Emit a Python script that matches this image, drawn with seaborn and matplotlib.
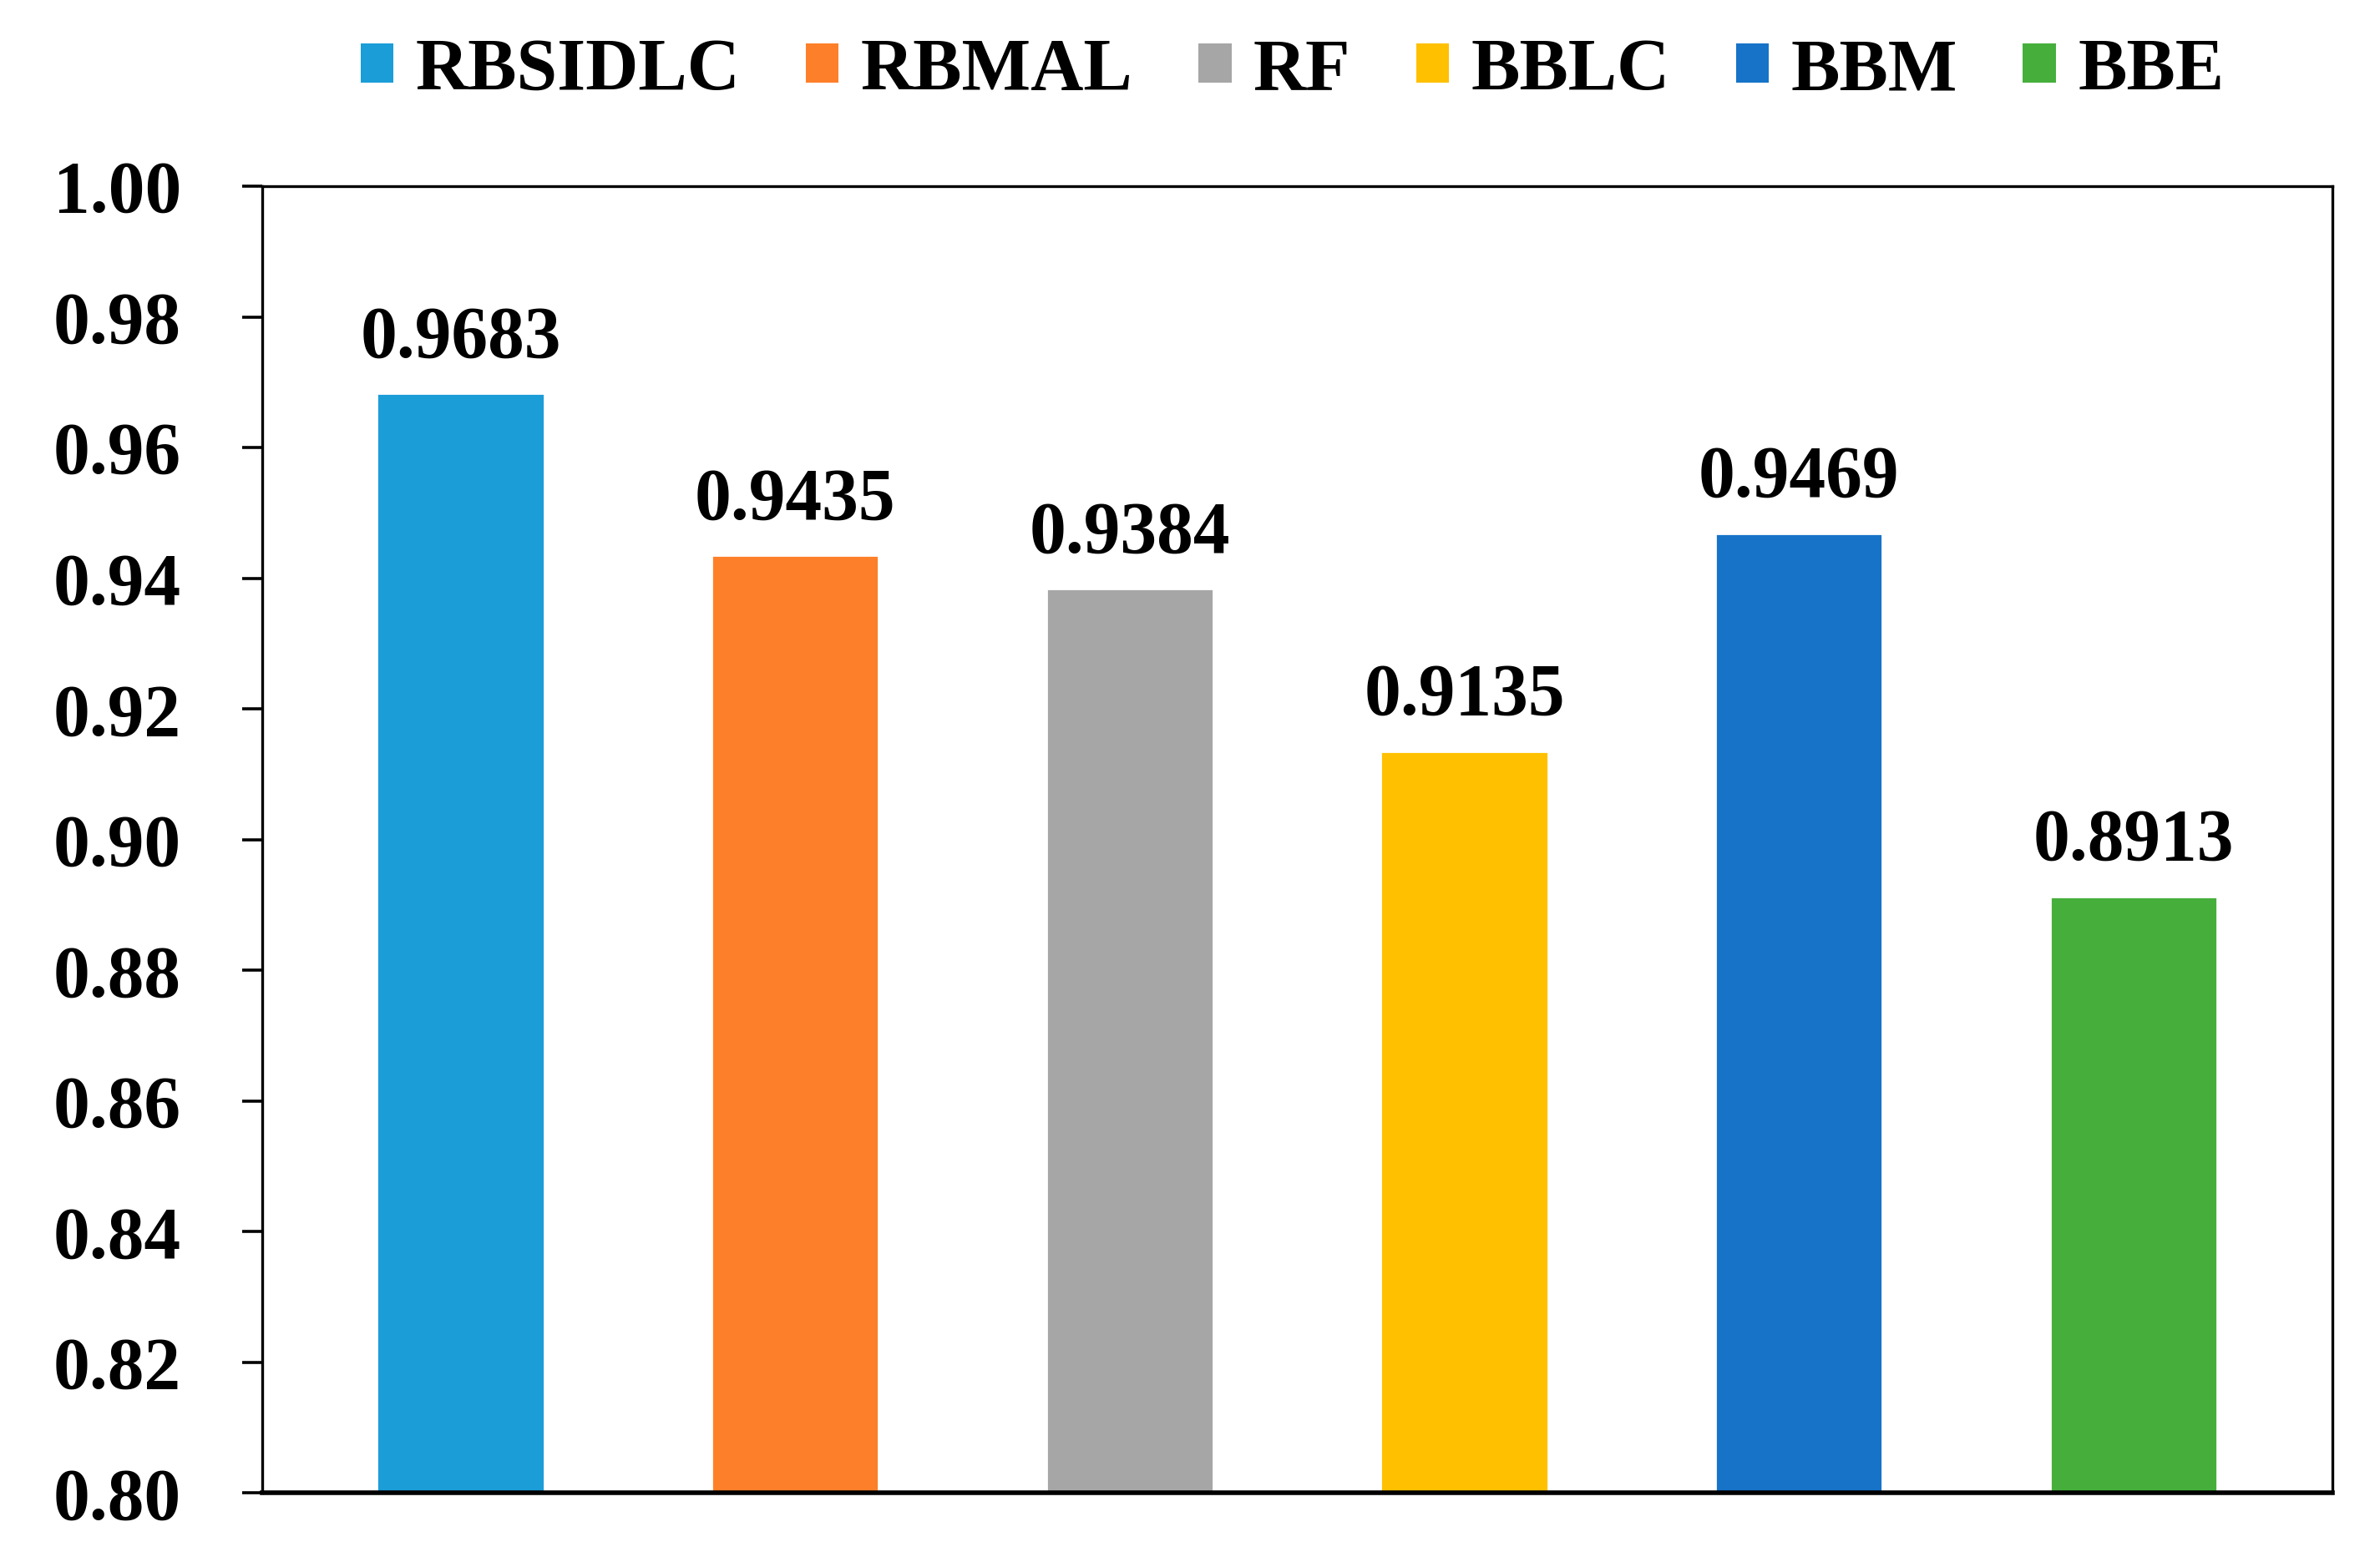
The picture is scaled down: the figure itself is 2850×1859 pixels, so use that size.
import pandas as pd
import seaborn as sns
import matplotlib.pyplot as plt
from matplotlib.patches import Patch

########## Data

models = ["RBSIDLC", "RBMAL", "RF", "BBLC", "BBM", "BBE"]
scores = [0.9683, 0.9435, 0.9384, 0.9135, 0.9469, 0.8913]
colors = ["#1B9DD8", "#FE7F29", "#A6A6A6", "#FFC000", "#1673C8", "#46AF3C"]
y_ticks = [0.80, 0.82, 0.84, 0.86, 0.88, 0.90, 0.92, 0.94, 0.96, 0.98, 1.00]

df = pd.DataFrame({"model": models, "score": scores})

########## Style

sns.set_style("ticks")
plt.rcParams['font.family'] = ['Liberation Serif', 'DejaVu Serif']
plt.rcParams['font.weight'] = 'bold'
plt.rcParams['text.color'] = 'black'
plt.rcParams['ytick.color'] = 'black'
plt.rcParams['ytick.labelcolor'] = 'black'

fig = plt.figure(figsize = (14.25, 9.295), dpi = 200)
ax  = fig.add_axes([0.110, 0.038, 0.870, 0.842])

sns.barplot(data = df, x = "model", y = "score", hue = "model", palette = colors,
            width = 0.5, legend = False, saturation = 1, ax = ax)

ax.set_ylim(0.80, 1.00)
ax.set_xlim(-0.594, len(models) - 1 + 0.594)
ax.set_yticks(y_ticks)
ax.set_yticklabels([f"{t:.2f}" for t in y_ticks], fontsize = 31.5, fontweight = 'bold', color = 'black')
ax.set_xticks([])
ax.set_xlabel("")
ax.set_ylabel("")
ax.tick_params(axis = 'y', direction = 'out', length = 8.7, width = 1.3, pad = 26, color = 'black')

for side in ['top', 'right', 'left']:
    ax.spines[side].set_visible(True)
    ax.spines[side].set_linewidth(1.2)
    ax.spines[side].set_color('black')
ax.spines['bottom'].set_linewidth(2.0)
ax.spines['bottom'].set_color('black')

# value labels above bars
for i, v in enumerate(scores):
    ax.annotate(f"{v:.4f}", xy = (i, v), xytext = (0, 9), textcoords = 'offset points',
                ha = 'center', va = 'bottom', fontsize = 31.5, fontweight = 'bold', color = 'black')

# legend on top
handles = [Patch(facecolor = c, edgecolor = 'none') for c in colors]
fig.legend(handles, models, loc = 'center', bbox_to_anchor = (0.543, 0.954), ncol = 6,
           frameon = False, prop = {'size': 31.5, 'weight': 'bold'},
           handlelength = 0.45, handleheight = 0.45, handletextpad = 0.3, columnspacing = 0.9)

fig.savefig("out.png", dpi = 200)
